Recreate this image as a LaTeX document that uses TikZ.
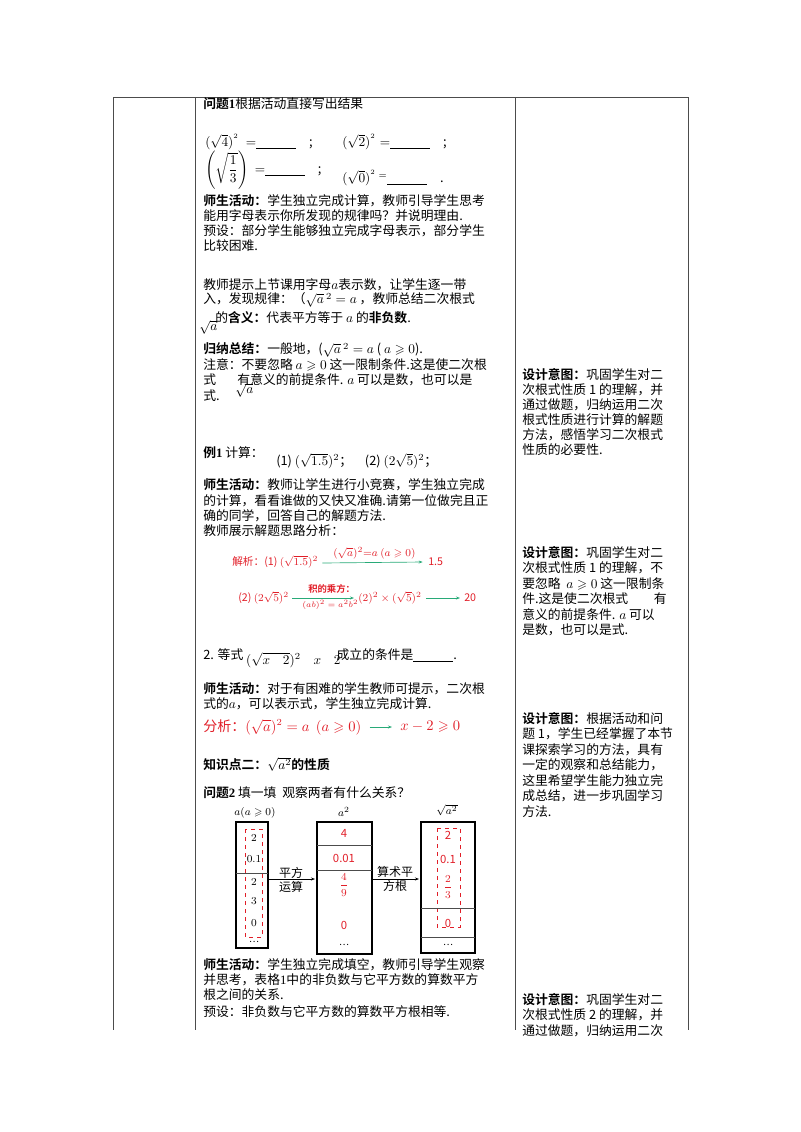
\documentclass[tikz,border=0pt]{standalone}
\usepackage{amsmath,amssymb}
\usepackage{fontspec}
\setmainfont{Noto Sans CJK SC}[BoldFont={Noto Sans CJK SC Bold}]
\newfontfamily\ser{Liberation Serif}
\usetikzlibrary{arrows.meta}
\definecolor{rd}{RGB}{225,30,40}
\definecolor{gr}{RGB}{40,170,120}
\begin{document}
\begin{tikzpicture}[x=0.75pt,y=-0.75pt,
  t/.style={anchor=west,inner sep=0,font=\fontsize{9.6}{11}\selectfont},
  r/.style={t,text=rd},
  cell/.style={draw,line width=0.9pt},
  dsh/.style={draw=rd,dashed,line width=0.6pt},
  arr/.style={-{Stealth[length=3pt]},line width=0.5pt},
  tbl/.style={line width=0.6pt,draw=black!70}]
\useasboundingbox (0,0) rectangle (800,1132);
% table frame
\draw[tbl] (113,97) -- (688,97);
\foreach \x in {113,195,515,688} \draw[tbl] (\x,97) -- (\x,1030);
% column 2
\node[t] (q1) at (203,104) {\textbf{问题{\ser 1}}根据活动直接写出结果};
\node[t] (e1) at (205,142) {$(\sqrt4)^{^2}\ =$\underline{\hspace{30pt}}\quad ;};
\node[t] (e2) at (342,142) {$(\sqrt2)^{^2}=$\underline{\hspace{30pt}}\quad ;};
\node[t] (e3) at (205,170) {$\left(\sqrt{\dfrac13}\right)\ =$\underline{\hspace{30pt}}\quad ;};
\node[t] (e4) at (342,178) {$(\sqrt0)^{^2}\,{}^{=}$\underline{\hspace{30pt}}\quad .};
\node[t] (l1) at (203,201) {\textbf{师生活动：}学生独立完成计算，教师引导学生思考};
\node[t] (l2) at (203,216) {能用字母表示你所发现的规律吗？并说明理由.};
\node[t] (l3) at (203,231) {预设：部分学生能够独立完成字母表示，部分学生};
\node[t] (l4) at (203,246) {比较困难.};
\node[t] (l5) at (203,285) {教师提示上节课用字母$a$表示数，让学生逐一带};
\node[t] (l6) at (203,300) {入，发现规律：（$\sqrt{a}\,^2=a$\ ，教师总结二次根式};
\node[t] (l7) at (215,318) {的\textbf{含义：}代表平方等于\ $a$\ 的\textbf{非负数}.};
\node[t] (sa) at (199,327) {$\sqrt a$};
\node[t] (l8) at (203,350) {\textbf{归纳总结：}一般地，($\sqrt{a}\,^2=a$\ (\ $a\geqslant0$).};
\node[t] (l9) at (203,365) {注意：不要忽略\ $a\geqslant0$\ 这一限制条件.这是使二次根};
\node[t] (l10) at (203,380) {式\quad\ \ \ 有意义的前提条件. $a$\ 可以是数，也可以是};
\node[t] (sb) at (235,390) {$\sqrt a$};
\node[t] (l11) at (203,396) {式.};
\node[t] (x1) at (203,453) {\textbf{例{\ser 1}}\ 计算：};
\node[t] (x1b) at (276,461) {(1)\ $(\sqrt{1.5})^2$；\quad(2)\ $(2\sqrt5)^2$；};
\node[t] (m1) at (203,485) {\textbf{师生活动：}教师让学生进行小竞赛，学生独立完成};
\node[t] (m2) at (203,501) {的计算，看看谁做的又快又准确.请第一位做完且正};
\node[t] (m3) at (203,516) {确的同学，回答自己的解题方法.};
\node[t] (m4) at (203,531) {教师展示解题思路分析：};
% analysis red
\node[r,font=\fontsize{8}{9}\selectfont] (j1) at (232,562) {解析：(1)\ $(\sqrt{1.5})^2$};
\node[r,font=\fontsize{8}{9}\selectfont] (j1r) at (428,562) {1.5};
\node[r,font=\fontsize{8}{9}\selectfont] (j1l) at (333,553) {$(\sqrt a)^2{=}a\ (a\geqslant0)$};
\draw[arr,gr] (j1.east)++(4,1) -- ([xshift=-4pt]j1r.west);
\node[r,font=\fontsize{8}{9}\selectfont] (j2) at (238,598) {(2)\ $(2\sqrt5)^2$};
\node[r,font=\fontsize{7}{8}\selectfont] (j2a) at (308,589) {\textbf{积的乘方：}};
\node[r,font=\fontsize{6}{7}\selectfont] (j2b) at (302,605) {$(ab)^2=a^2b^2$};
\node[r,font=\fontsize{8}{9}\selectfont] (j2c) at (358,598) {$(2)^2\times(\sqrt5)^2$};
\node[r,font=\fontsize{8}{9}\selectfont] (j2d) at (464,598) {20};
\draw[arr,gr] (j2.east)++(3,0) -- ([xshift=-3pt]j2c.west);
\draw[arr,gr] ([xshift=3pt]j2c.east) -- ([xshift=-3pt]j2d.west);
\node[t] (y1) at (203,658) {2. 等式\ \raisebox{-4pt}{$(\sqrt{x\quad2})^2\quad x\quad2$}\hspace{-3pt}成立的条件是\underline{\hspace{30pt}}.};
\node[t] (y2) at (203,689) {\textbf{师生活动：}对于有困难的学生教师可提示，二次根};
\node[t] (y3) at (203,704) {式的$a$，可以表示式，学生独立完成计算.};
\node[r,font=\fontsize{10.5}{12}\selectfont] (y4) at (203,727) {分析：$(\sqrt a)^2=a\ \ (a\geqslant0)$};
\node[r,font=\fontsize{10.5}{12}\selectfont] (y5) at (400,727) {$x-2\geqslant0$};
\draw[arr,gr] ([xshift=6pt]y4.east) -- ([xshift=-6pt]y5.west);
\node[t] (k2) at (203,764) {\textbf{知识点二：$\sqrt{a^2}$的性质}};
\node[t] (q2) at (203,793) {\textbf{问题{\ser 2}}\ 填一填\ \ 观察两者有什么关系？};
% diagram
\node[font=\fontsize{8}{9}\selectfont] (h1) at (255,813) {$a(a\geqslant0)$};
\node[font=\fontsize{8}{9}\selectfont] (h2) at (344,812) {$a^2$};
\node[font=\fontsize{8}{9}\selectfont] (h3) at (447,810) {$\sqrt{a^2}$};
\draw[cell] (236,822) rectangle (268,948);
\draw[dsh] (245,829) rectangle (262,937);
\draw[tbl] (236,873) -- (268,873);
\draw[cell] (317,822) rectangle (372,954);
\draw[tbl] (317,845) -- (372,845) (317,870) -- (372,870);
\draw[cell] (421,822) rectangle (475,953);
\draw[dsh] (437,828) rectangle (460,927);
\draw[tbl] (421,908) -- (475,908) (421,937) -- (475,937);
\foreach \v/\y in {2/838,0.1/859,2/882,3/901,0/923} \node[font=\fontsize{8.5}{9}\selectfont] at (254,\y) {$\v$};
\node[font=\fontsize{7}{8}\selectfont] at (254,942) {…};
\node[text=rd,font=\fontsize{8.5}{9}\selectfont] at (344,833) {4};
\node[text=rd,font=\fontsize{8.5}{9}\selectfont] at (344,858) {0.01};
\node[text=rd,font=\fontsize{8.5}{9}\selectfont] at (344,885) {$\dfrac49$};
\node[text=rd,font=\fontsize{8.5}{9}\selectfont] at (344,925) {0};
\node[font=\fontsize{7}{8}\selectfont] at (344,945) {…};
\node[text=rd,font=\fontsize{8.5}{9}\selectfont] at (448,835) {2};
\node[text=rd,font=\fontsize{8.5}{9}\selectfont] at (448,859) {0.1};
\node[text=rd,font=\fontsize{8.5}{9}\selectfont] at (448,887) {$\dfrac23$};
\node[text=rd,font=\fontsize{8.5}{9}\selectfont] at (448,923) {0};
\node[font=\fontsize{7}{8}\selectfont] at (448,945) {…};
\coordinate (a1s) at (268,879); \coordinate (a1e) at (315,879);
\coordinate (a2s) at (372,879); \coordinate (a2e) at (419,879);
\draw[arr] (a1s) -- (a1e);
\draw[arr] (a2s) -- (a2e);
\node[font=\fontsize{9}{10}\selectfont,align=center] (p1) at (291,880) {平方\\[1pt]运算};
\node[font=\fontsize{9}{10}\selectfont,align=center] (p2) at (395,879) {算术平\\[1pt]方根};
\node[t] (z1) at (203,965) {\textbf{师生活动：}学生独立完成填空，教师引导学生观察};
\node[t] (z2) at (203,980) {并思考，表格{\ser 1}中的非负数与它平方数的算数平方};
\node[t] (z3) at (203,995) {根之间的关系.};
\node[t] (z4) at (203,1012) {预设：非负数与它平方数的算数平方根相等.};
% column 3
\foreach \s [count=\i] in {{\textbf{设计意图：}巩固学生对二},{次根式性质 1 的理解，并},{通过做题，归纳运用二次},{根式性质进行计算的解题},{方法，感悟学习二次根式},{性质的必要性.}}
  \node[t] at (522,360+15*\i) {\s};
\foreach \s [count=\i] in {{\textbf{设计意图：}巩固学生对二},{次根式性质 1 的理解，不},{要忽略\ \ $a\geqslant0$\ 这一限制条},{件.这是使二次根式\qquad 有},{意义的前提条件. $a$\ 可以},{是数，也可以是式.}}
  \node[t] at (522,537+15.5*\i) {\s};
\foreach \s [count=\i] in {{\textbf{设计意图：}根据活动和问},{题 1，学生已经掌握了本节},{课探索学习的方法，具有},{一定的观察和总结能力，},{这里希望学生能力独立完},{成总结，进一步巩固学习},{方法.}}
  \node[t] at (522,703+15.5*\i) {\s};
\foreach \s [count=\i] in {{\textbf{设计意图：}巩固学生对二},{次根式性质 2 的理解，并},{通过做题，归纳运用二次}}
  \node[t] at (522,984+15.5*\i) {\s};
\end{tikzpicture}
\end{document}
